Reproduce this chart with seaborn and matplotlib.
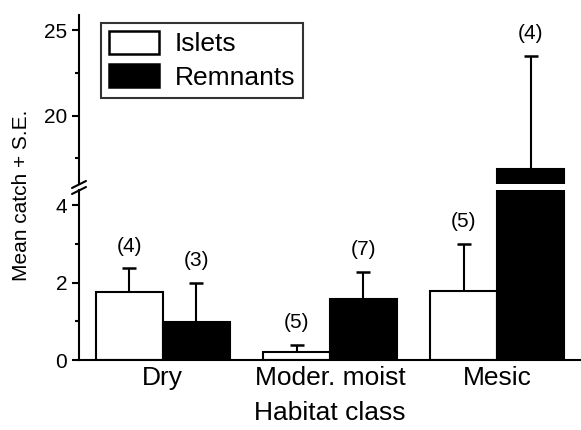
import pandas as pd
import matplotlib
matplotlib.use('Agg')
import matplotlib.pyplot as plt
from matplotlib.patches import Patch
from matplotlib.lines import Line2D
from matplotlib.ticker import MultipleLocator
import seaborn as sns

# Data
habitats = ['Dry', 'Moder. moist', 'Mesic']
islets_mean = [1.75, 0.20, 1.78]
islets_se = [0.62, 0.19, 1.21]
islets_n = [4, 5, 5]
remnants_mean = [0.98, 1.57, 16.9]
remnants_se = [1.02, 0.70, 6.6]
remnants_n = [3, 7, 4]
groups = ['Islets', 'Remnants']

df = pd.DataFrame({
    'Habitat': habitats * 2,
    'Group': ['Islets'] * 3 + ['Remnants'] * 3,
    'Mean': islets_mean + remnants_mean,
    'SE': islets_se + remnants_se,
    'N': islets_n + remnants_n,
})

sns.set_style('ticks')
plt.rcParams['font.family'] = ['Liberation Sans', 'DejaVu Sans']
plt.rcParams['axes.linewidth'] = 1.5
for key in ('text.color', 'axes.labelcolor', 'xtick.color', 'ytick.color', 'axes.edgecolor'):
    plt.rcParams[key] = 'black'

W, H = 581, 430
fig = plt.figure(figsize=(W / 100, H / 100), dpi=100)

def fx(px):
    return px / W

def fy(py):
    return 1 - py / H

left, right = 79, 581
ax_lo = fig.add_axes([fx(left), fy(360), fx(right - left), fy(190) - fy(360)])
ax_hi = fig.add_axes([fx(left), fy(184), fx(right - left), fy(15) - fy(184)], sharex=ax_lo)

palette = {'Islets': 'white', 'Remnants': 'black'}

for ax in (ax_lo, ax_hi):
    sns.barplot(data=df, x='Habitat', y='Mean', hue='Group', hue_order=groups,
                order=habitats, palette=palette, edgecolor='black', linewidth=1.5,
                errorbar=None, legend=False, ax=ax, width=0.8, saturation=1)
    # one-sided error bars and sample sizes
    for container, grp in zip(ax.containers, groups):
        sub = df[df['Group'] == grp].set_index('Habitat').loc[habitats]
        for bar, se, n in zip(container, sub['SE'], sub['N']):
            xc = bar.get_x() + bar.get_width() / 2
            top = bar.get_height()
            eb = ax.errorbar(xc, top, yerr=[[0], [se]], fmt='none', ecolor='black',
                             elinewidth=1.5, capsize=5, capthick=1.8, zorder=1)
            eb[1][0].set_visible(False)  # no cap on the bar top
            ax.annotate(f'({n})', (xc, top + se), xytext=(0, 16),
                        textcoords='offset points', ha='center', va='center',
                        fontsize=15, annotation_clip=True)
    ax.set_xlim(-0.5, 2.5)
    ax.set_ylabel('')
    ax.set_xlabel('')
    ax.tick_params(axis='y', which='major', length=5, width=1.5, labelsize=15, direction='out')
    ax.tick_params(axis='y', which='minor', length=3, width=1.5, direction='out')

ax_lo.set_ylim(0, 4.39)
ax_lo.yaxis.set_major_locator(MultipleLocator(2))
ax_lo.yaxis.set_minor_locator(MultipleLocator(1))
ax_hi.set_ylim(16, 25.88)
ax_hi.yaxis.set_major_locator(MultipleLocator(5))
ax_hi.yaxis.set_minor_locator(MultipleLocator(2.5))

ax_lo.spines[['top', 'right']].set_visible(False)
ax_hi.spines[['top', 'right', 'bottom']].set_visible(False)
ax_hi.tick_params(axis='x', which='both', bottom=False, labelbottom=False)
ax_lo.tick_params(axis='x', length=0, labelsize=19, pad=4)
ax_lo.set_xlabel('Habitat class', fontsize=19, labelpad=8)

fig.text(fx(22), fy(195), 'Mean catch + S.E.', rotation=90, ha='center', va='center', fontsize=15)

# axis break marks
for y0 in (188, 194):
    fig.add_artist(Line2D([fx(72), fx(86)], [fy(y0), fy(y0 - 7)], color='black', lw=1.5))

handles = [Patch(facecolor=palette[g], edgecolor='black', linewidth=1.8, label=g) for g in groups]
leg = fig.legend(handles=handles, loc='upper left', bbox_to_anchor=(fx(101), fy(23)),
                 fontsize=19, frameon=True, fancybox=False, handlelength=1.9, handleheight=0.95,
                 handletextpad=0.6, borderpad=0.3, labelspacing=0.3, borderaxespad=0)
leg.get_frame().set_edgecolor('black')
leg.get_frame().set_linewidth(1.5)

fig.savefig('out.png', dpi=100, facecolor='white')
